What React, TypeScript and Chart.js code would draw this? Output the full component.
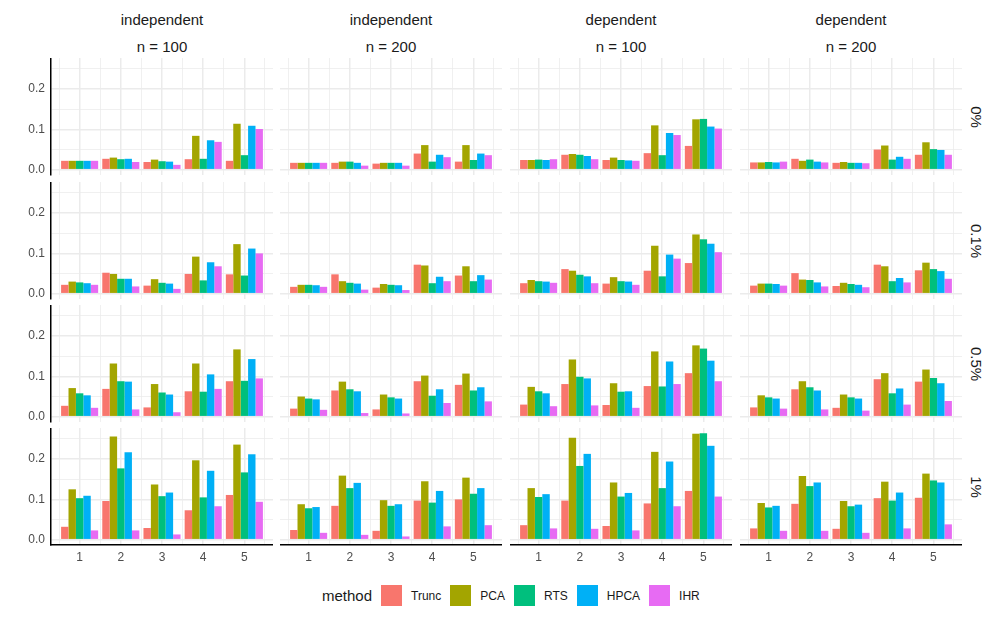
import React, { useEffect, useRef } from "react";
import { Chart, registerables } from "chart.js";
Chart.register(...registerables);

// ---------- data ----------
const categories = [1, 2, 3, 4, 5];
const methods = ["Trunc", "PCA", "RTS", "HPCA", "IHR"];
const methodColors = ["#F8766D", "#A3A500", "#00BF7D", "#00B0F6", "#E76BF3"];
const colStripTop = ["independent", "independent", "dependent", "dependent"];
const colStripBottom = ["n = 100", "n = 200", "n = 100", "n = 200"];
const rowStrips = ["0%", "0.1%", "0.5%", "1%"];
const yTicks = [0, 0.05, 0.1, 0.15, 0.2, 0.25];
const yMajor = [0, 0.1, 0.2];
const xTicks = [0.5, 1, 1.5, 2, 2.5, 3, 3.5, 4, 4.5, 5, 5.5];

// rows of each array: Trunc, PCA, RTS, HPCA, IHR ; columns: categories 1..5
const ind100_0: number[][] = [
  [0.022, 0.027, 0.019, 0.026, 0.022],
  [0.022, 0.030, 0.025, 0.084, 0.114],
  [0.022, 0.026, 0.021, 0.027, 0.036],
  [0.022, 0.027, 0.020, 0.073, 0.109],
  [0.022, 0.019, 0.012, 0.069, 0.101],
];
const ind200_0: number[][] = [
  [0.017, 0.017, 0.015, 0.040, 0.020],
  [0.017, 0.020, 0.017, 0.061, 0.061],
  [0.017, 0.020, 0.017, 0.020, 0.024],
  [0.017, 0.017, 0.017, 0.037, 0.040],
  [0.017, 0.010, 0.010, 0.031, 0.036],
];
const dep100_0: number[][] = [
  [0.024, 0.037, 0.024, 0.041, 0.059],
  [0.024, 0.039, 0.030, 0.110, 0.125],
  [0.025, 0.037, 0.024, 0.036, 0.126],
  [0.024, 0.034, 0.023, 0.091, 0.107],
  [0.026, 0.026, 0.022, 0.086, 0.102],
];
const dep200_0: number[][] = [
  [0.018, 0.027, 0.017, 0.050, 0.037],
  [0.018, 0.022, 0.019, 0.060, 0.068],
  [0.019, 0.025, 0.017, 0.025, 0.051],
  [0.018, 0.020, 0.017, 0.032, 0.049],
  [0.020, 0.018, 0.016, 0.027, 0.037],
];
const ind100_01: number[][] = [
  [0.022, 0.052, 0.020, 0.049, 0.048],
  [0.030, 0.049, 0.036, 0.092, 0.123],
  [0.028, 0.037, 0.027, 0.033, 0.045],
  [0.026, 0.037, 0.025, 0.078, 0.112],
  [0.022, 0.018, 0.012, 0.068, 0.100],
];
const ind200_01: number[][] = [
  [0.017, 0.048, 0.015, 0.072, 0.045],
  [0.022, 0.031, 0.024, 0.070, 0.068],
  [0.022, 0.027, 0.022, 0.026, 0.031],
  [0.021, 0.025, 0.021, 0.042, 0.046],
  [0.017, 0.010, 0.009, 0.031, 0.035],
];
const dep100_01: number[][] = [
  [0.026, 0.061, 0.025, 0.057, 0.076],
  [0.034, 0.057, 0.041, 0.119, 0.147],
  [0.031, 0.047, 0.031, 0.043, 0.135],
  [0.030, 0.043, 0.030, 0.097, 0.124],
  [0.027, 0.026, 0.022, 0.087, 0.103],
];
const dep200_01: number[][] = [
  [0.020, 0.051, 0.019, 0.072, 0.058],
  [0.025, 0.035, 0.027, 0.068, 0.077],
  [0.025, 0.034, 0.024, 0.031, 0.061],
  [0.024, 0.028, 0.022, 0.039, 0.056],
  [0.020, 0.018, 0.016, 0.028, 0.037],
];
const ind100_05: number[][] = [
  [0.027, 0.069, 0.023, 0.063, 0.088],
  [0.071, 0.132, 0.081, 0.132, 0.167],
  [0.058, 0.088, 0.060, 0.062, 0.089],
  [0.053, 0.087, 0.055, 0.105, 0.143],
  [0.022, 0.018, 0.011, 0.069, 0.095],
];
const ind200_05: number[][] = [
  [0.020, 0.065, 0.018, 0.088, 0.079],
  [0.050, 0.087, 0.055, 0.102, 0.107],
  [0.045, 0.068, 0.048, 0.052, 0.065],
  [0.043, 0.063, 0.045, 0.068, 0.073],
  [0.017, 0.009, 0.008, 0.034, 0.038],
];
const dep100_05: number[][] = [
  [0.030, 0.081, 0.029, 0.076, 0.108],
  [0.074, 0.142, 0.083, 0.162, 0.177],
  [0.063, 0.099, 0.062, 0.075, 0.169],
  [0.058, 0.095, 0.063, 0.137, 0.139],
  [0.026, 0.028, 0.022, 0.081, 0.088],
];
const dep200_05: number[][] = [
  [0.023, 0.068, 0.022, 0.093, 0.087],
  [0.053, 0.088, 0.055, 0.108, 0.117],
  [0.048, 0.073, 0.048, 0.058, 0.096],
  [0.045, 0.065, 0.045, 0.070, 0.083],
  [0.020, 0.018, 0.015, 0.030, 0.039],
];
const ind100_1: number[][] = [
  [0.032, 0.096, 0.029, 0.073, 0.111],
  [0.125, 0.256, 0.137, 0.197, 0.236],
  [0.103, 0.177, 0.108, 0.105, 0.167],
  [0.109, 0.217, 0.117, 0.171, 0.212],
  [0.023, 0.023, 0.013, 0.083, 0.094],
];
const ind200_1: number[][] = [
  [0.024, 0.084, 0.022, 0.097, 0.100],
  [0.088, 0.159, 0.098, 0.145, 0.154],
  [0.078, 0.128, 0.084, 0.092, 0.114],
  [0.081, 0.141, 0.088, 0.121, 0.128],
  [0.017, 0.012, 0.008, 0.033, 0.036],
];
const dep100_1: number[][] = [
  [0.036, 0.097, 0.034, 0.090, 0.121],
  [0.128, 0.253, 0.142, 0.218, 0.263],
  [0.106, 0.183, 0.107, 0.128, 0.264],
  [0.113, 0.213, 0.116, 0.194, 0.233],
  [0.028, 0.027, 0.023, 0.083, 0.107],
];
const dep200_1: number[][] = [
  [0.028, 0.089, 0.027, 0.103, 0.104],
  [0.091, 0.158, 0.096, 0.144, 0.164],
  [0.080, 0.133, 0.083, 0.097, 0.147],
  [0.084, 0.142, 0.087, 0.117, 0.142],
  [0.022, 0.022, 0.017, 0.028, 0.038],
];

const panelGrid: number[][][][] = [
  [ind100_0, ind200_0, dep100_0, dep200_0],
  [ind100_01, ind200_01, dep100_01, dep200_01],
  [ind100_05, ind200_05, dep100_05, dep200_05],
  [ind100_1, ind200_1, dep100_1, dep200_1],
];

// ---------- layout ----------
const PANEL_LEFTS = [51, 280, 510, 740];
const PANEL_TOPS = [58, 182, 305, 428];
const PANEL_W = 222;
const PANEL_H = 117;
const Y_AXIS_W = 51;
const X_AXIS_H = 24;
const X_MIN = 0.305;
const X_MAX = 5.695;
const Y_MIN = -0.0132;
const Y_MAX = 0.2772;
// The bar ruler measures the smallest gap between ticks (half-unit minor ticks),
// so a group width of 0.9 category units equals 1.8 of that gap.
const GROUP_FRACTION = 1.8;

const FONT = '"Liberation Sans", Arial, Helvetica, sans-serif';
const GRID = "#EBEBEB";
const TICK_COLOR = "#4D4D4D";
const TEXT_COLOR = "#1A1A1A";

const near = (a: number, list: number[]) => list.some((b) => Math.abs(a - b) < 1e-9);

function Panel({ values, left, top, showY, showX }: { values: number[][]; left: number; top: number; showY: boolean; showX: boolean }) {
  const ref = useRef<HTMLCanvasElement>(null);
  const axisW = showY ? Y_AXIS_W : 0;
  const axisH = showX ? X_AXIS_H : showY ? 6 : 0;
  const w = PANEL_W + axisW;
  const h = PANEL_H + axisH;
  useEffect(() => {
    const chart = new Chart(ref.current as HTMLCanvasElement, {
      type: "bar",
      data: {
        datasets: methods.map((m, i) => ({
          label: m,
          data: categories.map((c, j) => ({ x: c, y: values[i][j] })),
          backgroundColor: methodColors[i],
          borderWidth: 0,
          categoryPercentage: GROUP_FRACTION,
          barPercentage: 1.0,
        })),
      } as any,
      options: {
        responsive: false,
        maintainAspectRatio: false,
        animation: false,
        devicePixelRatio: 1,
        layout: { padding: 0, autoPadding: false } as any,
        plugins: { legend: { display: false }, tooltip: { enabled: false } },
        scales: {
          x: {
            type: "linear",
            min: X_MIN,
            max: X_MAX,
            offset: false,
            afterBuildTicks: (s: any) => {
              s.ticks = xTicks.map((v) => ({ value: v }));
            },
            afterFit: (s: any) => {
              s.height = axisH;
              s.paddingLeft = 0;
              s.paddingRight = 0;
            },
            ticks: {
              display: showX,
              autoSkip: false,
              maxRotation: 0,
              minRotation: 0,
              padding: 5,
              color: TICK_COLOR,
              font: { family: FONT, size: 12 },
              callback: (v: any) => (Number.isInteger(Number(v)) ? String(v) : ""),
            },
            grid: {
              offset: false,
              drawTicks: false,
              color: GRID,
              lineWidth: (ctx: any) => (ctx.tick && Number.isInteger(ctx.tick.value) ? 1.5 : 0.75),
            },
            border: { display: showX, color: "#000000", width: 1.5 },
          },
          y: {
            type: "linear",
            min: Y_MIN,
            max: Y_MAX,
            afterBuildTicks: (s: any) => {
              s.ticks = yTicks.map((v) => ({ value: v }));
            },
            afterFit: (s: any) => {
              s.width = axisW;
              s.paddingTop = 0;
              s.paddingBottom = 0;
            },
            ticks: {
              display: showY,
              autoSkip: false,
              padding: 6,
              color: TICK_COLOR,
              font: { family: FONT, size: 12 },
              callback: (v: any) => (near(Number(v), yMajor) ? Number(v).toFixed(1) : ""),
            },
            grid: {
              drawTicks: false,
              color: GRID,
              lineWidth: (ctx: any) => (ctx.tick && near(ctx.tick.value, yMajor) ? 1.5 : 0.75),
            },
            border: { display: showY, color: "#000000", width: 1.5 },
          },
        },
      } as any,
    });
    return () => chart.destroy();
  }, []);
  return (
    <canvas
      ref={ref}
      width={w}
      height={h}
      style={{ position: "absolute", left: left - axisW, top, width: w, height: h }}
    />
  );
}

export default function App() {
  return (
    <div
      style={{
        position: "absolute",
        left: 0,
        top: 0,
        width: 997,
        height: 622,
        background: "#FFFFFF",
        fontFamily: FONT,
        overflow: "hidden",
      }}
    >
      {colStripTop.map((t, c) => (
        <React.Fragment key={"strip" + c}>
          <div
            style={{
              position: "absolute",
              left: PANEL_LEFTS[c],
              width: PANEL_W,
              top: 10,
              height: 20,
              lineHeight: "20px",
              textAlign: "center",
              fontSize: 15,
              color: TEXT_COLOR,
            }}
          >
            {t}
          </div>
          <div
            style={{
              position: "absolute",
              left: PANEL_LEFTS[c],
              width: PANEL_W,
              top: 37,
              height: 20,
              lineHeight: "20px",
              textAlign: "center",
              fontSize: 15,
              color: TEXT_COLOR,
            }}
          >
            {colStripBottom[c]}
          </div>
        </React.Fragment>
      ))}
      {rowStrips.map((t, r) => (
        <div
          key={"rs" + r}
          style={{
            position: "absolute",
            left: 976 - 50,
            top: PANEL_TOPS[r] + PANEL_H / 2 - 10,
            width: 100,
            height: 20,
            lineHeight: "20px",
            textAlign: "center",
            fontSize: 15,
            color: TEXT_COLOR,
            transform: "rotate(90deg)",
          }}
        >
          {t}
        </div>
      ))}
      {panelGrid.map((row, r) =>
        row.map((vals, c) => (
          <Panel
            key={r + "-" + c}
            values={vals}
            left={PANEL_LEFTS[c]}
            top={PANEL_TOPS[r]}
            showY={c === 0}
            showX={r === panelGrid.length - 1}
          />
        ))
      )}
      <div
        style={{
          position: "absolute",
          left: 322,
          top: 585,
          height: 21,
          display: "flex",
          alignItems: "center",
          whiteSpace: "nowrap",
        }}
      >
        <span style={{ fontSize: 15, color: TEXT_COLOR, marginRight: 9 }}>method</span>
        {methods.map((m, i) => (
          <React.Fragment key={m}>
            <span style={{ display: "inline-block", width: 21, height: 21, background: methodColors[i] }} />
            <span style={{ fontSize: 12, color: TEXT_COLOR, marginLeft: 9, marginRight: 9 }}>{m}</span>
          </React.Fragment>
        ))}
      </div>
    </div>
  );
}
